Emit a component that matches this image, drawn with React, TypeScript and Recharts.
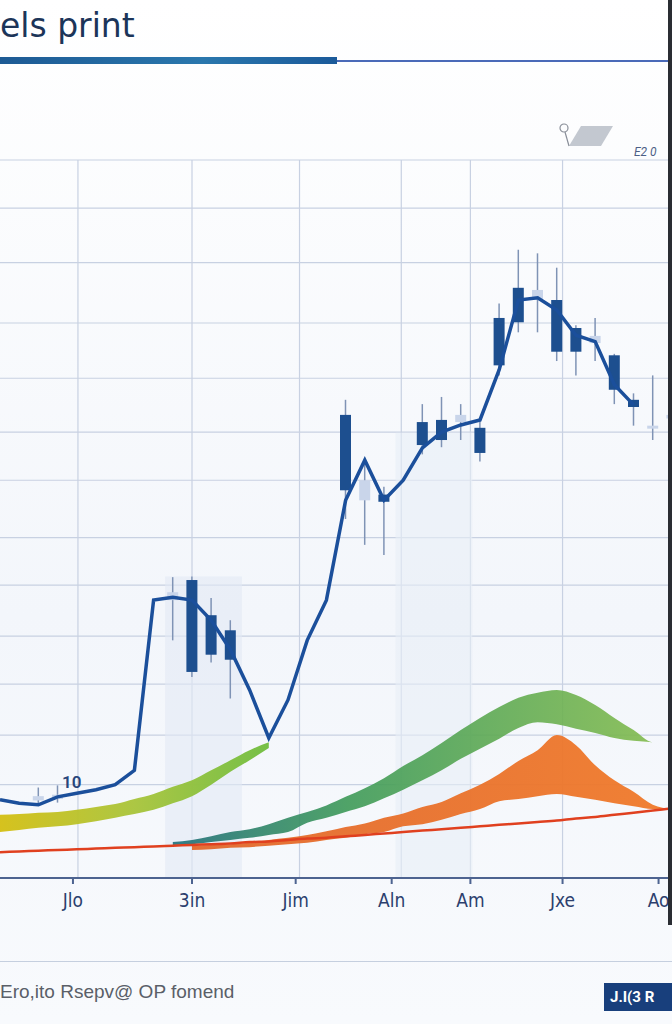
import React from 'react';
import {
  ComposedChart,
  Line,
  Area,
  Bar,
  XAxis,
  YAxis,
  CartesianGrid,
  ReferenceArea,
} from 'recharts';

// one slot per x position (0..35)
const slots = [
  0, 1, 2, 3, 4, 5, 6, 7, 8, 9, 10, 11, 12, 13, 14, 15, 16, 17,
  18, 19, 20, 21, 22, 23, 24, 25, 26, 27, 28, 29, 30, 31, 32, 33, 34, 35,
];

const closeLine = [
  10.9, 10.4, 10.2, 11.3, 11.8, 12.3, 13.0, 15.0, 38.7, 39.1, 38.7, 35.9,
  31.8, 26.2, 19.5, 24.8, 33.1, 38.7, 52.6, 58.2, 52.6, 55.4, 59.9, 62.1,
  63.1, 63.8, 70.8, 80.5, 80.8, 79.1, 75.6, 74.7, 68.7, 65.9, null, null,
];

const candleOpen = [
  null, null, 11.4, 11.6, null, null, null, null, null, 39.8, 41.5, 36.6,
  34.5, null, null, null, null, null, 54.0, 55.4, 53.4, null, 60.3, 61.0,
  63.5, 62.7, 71.4, 77.4, 81.9, 80.5, 76.6, 75.5, 72.8, 66.6, 63.0, 64.5,
];
const candleClose = [
  null, null, 10.8, 11.0, null, null, null, null, null, 38.7, 28.7, 31.1,
  30.4, null, null, null, null, null, 64.5, 52.6, 52.4, null, 63.5, 63.8,
  64.5, 59.2, 78.0, 82.2, 80.5, 73.3, 73.3, 74.5, 68.0, 65.6, 62.8, 64.0,
];
const candleHigh = [
  null, null, 12.6, 12.9, null, null, null, null, null, 41.9, 42.0, 39.0,
  35.9, null, null, null, null, null, 66.6, 58.0, 54.5, null, 66.0, 67.0,
  66.0, 64.0, 80.0, 87.5, 87.0, 85.0, 77.0, 78.0, 73.0, 67.5, 70.0, 72.0,
];
const candleLow = [
  null, null, 10.2, 10.5, null, null, null, null, null, 33.1, 28.0, 30.0,
  25.0, null, null, null, null, null, 50.0, 46.4, 45.0, null, 59.0, 60.0,
  61.0, 58.0, 70.0, 76.0, 76.0, 72.0, 70.0, 72.0, 66.0, 63.0, 61.0, 62.0,
];
const candleLight = [
  false, false, true, true, false, false, false, false, false, true, false, false,
  false, false, false, false, false, false, false, true, false, false, false, false,
  true, false, false, false, true, false, false, true, false, false, true, true,
];

// yellow-green band on the left
const greenLeftLow = [
  6.4, 6.7, 7.0, 7.2, 7.5, 7.9, 8.4, 8.9, 9.5, 10.4, 11.4, 13.0, 14.8, 16.4, 18.1,
];
const greenLeftHigh = [
  8.8, 8.9, 9.1, 9.2, 9.5, 9.9, 10.3, 11.0, 11.7, 12.7, 13.6, 15.0, 16.4, 17.8, 18.9,
];

// green wedge, from slot 9
const greenLow = [
  4.6, 4.7, 5.0, 5.3, 5.6, 6.0, 6.4, 7.7, 8.4, 9.2, 10.0, 11.1, 12.3, 13.6,
  15.0, 16.6, 18.0, 19.4, 20.9, 21.7, 21.4, 20.8, 20.2, 19.5,
  19.1, 18.9, 18.8,
];
const greenHigh = [
  5.0, 5.3, 5.8, 6.4, 6.8, 7.5, 8.4, 9.2, 10.1, 11.3, 12.5, 13.9, 15.6, 17.1,
  18.8, 20.6, 22.3, 23.8, 25.1, 25.8, 26.2, 25.5, 24.1, 22.3,
  20.6, 18.9, 18.8,
];

// orange wedge, from slot 10
const orangeLow = [
  3.9, 4.0, 4.2, 4.3, 4.5, 4.7, 4.9, 5.3, 5.6, 6.1, 6.4, 7.2, 7.5, 8.1, 8.9,
  9.6, 10.7, 11.0, 11.4, 11.7, 11.3, 10.9, 10.4, 10.0, 9.6, 9.6,
];
const orangeHigh = [
  4.5, 4.6, 4.7, 4.9, 5.3, 5.6, 6.0, 6.5, 7.1, 7.6, 8.4, 9.0, 9.9, 10.6, 11.8,
  13.0, 14.5, 16.3, 17.8, 19.9, 18.5, 15.7, 13.6, 12.0, 10.2, 9.6,
];

const redLine = [
  3.6, 3.7, 3.8, 3.9, 4.0, 4.1, 4.2, 4.3, 4.4, 4.5, 4.6, 4.7, 4.8, 5.0, 5.1,
  5.3, 5.5, 5.6, 5.8, 6.0, 6.2, 6.4, 6.6, 6.8, 7.0, 7.2, 7.4, 7.6, 7.8, 8.0,
  8.3, 8.5, 8.8, 9.1, 9.4, 9.7,
];

const xTicks = [3.8, 10, 15.4, 20.4, 24.5, 29.3, 34.3];
const xTickLabels = ['Jlo', '3in', 'Jim', 'Aln', 'Am', 'Jxe', 'Ao'];
const xGrid = [4.06, 10, 15.6, 20.9, 24.5, 29.3];
const yTicks = [13, 19.9, 27, 33.7, 40.8, 47.4, 55.4, 62.1, 69.6, 77.3, 85.7, 93.3, 100];

const data = slots.map((s, i) => ({
  x: s,
  close: closeLine[i],
  open: candleOpen[i],
  shut: candleClose[i],
  high: candleHigh[i],
  low: candleLow[i],
  light: candleLight[i],
  greenLeft: i < greenLeftLow.length ? [greenLeftLow[i], greenLeftHigh[i]] : null,
  green: i >= 9 ? [greenLow[i - 9], greenHigh[i - 9]] : null,
  orange: i >= 10 ? [orangeLow[i - 10], orangeHigh[i - 10]] : null,
  red: redLine[i],
}));

const Candle = (props: any) => {
  const { x, y, width, height, payload } = props;
  if (payload.high == null || !height) return null;
  const unit = height / (payload.high - payload.low);
  const top = Math.max(payload.open, payload.shut);
  const bodyY = y + (payload.high - top) * unit;
  const bodyH = Math.max(3, Math.abs(payload.open - payload.shut) * unit);
  const cx = x + width / 2;
  const fill = payload.light ? '#c9d5ea' : '#1d4f8f';
  return (
    <g>
      <line x1={cx} x2={cx} y1={y} y2={y + height} stroke="#7f93b5" strokeWidth={1.5} />
      <rect x={x} y={bodyY} width={width} height={bodyH} fill={fill} />
    </g>
  );
};

const NoTick = () => null;

export default function App() {
  return (
    <div
      style={{
        position: 'fixed',
        left: 0,
        top: 0,
        width: 672,
        height: 1024,
        overflow: 'hidden',
        background: 'linear-gradient(180deg, #ffffff 0%, #f3f6fb 60%, #f8fafd 100%)',
        fontFamily: 'Roboto, "Noto Sans", sans-serif',
      }}
    >
      <div
        style={{
          position: 'absolute',
          left: 0,
          top: 6,
          fontSize: 33,
          color: '#1c3559',
          fontFamily: '"DejaVu Sans", sans-serif',
        }}
      >
        els print
      </div>
      <div
        style={{
          position: 'absolute',
          left: 0,
          top: 57,
          width: 337,
          height: 7,
          background: 'linear-gradient(90deg, #1d5a94, #2a77ad 60%, #1b5a9a)',
        }}
      />
      <div
        style={{
          position: 'absolute',
          left: 337,
          top: 60,
          width: 335,
          height: 2,
          background: '#4a6ab8',
        }}
      />
      <svg style={{ position: 'absolute', left: 555, top: 120 }} width={70} height={30}>
        <polygon points="14,26 26,6 58,6 46,26" fill="#c3c8d0" />
        <circle cx={9} cy={8} r={4} fill="none" stroke="#8a8f99" strokeWidth={1.2} />
        <line x1={10} y1={12} x2={14} y2={26} stroke="#8a8f99" strokeWidth={1.2} />
      </svg>
      <div style={{ position: 'absolute', left: 634, top: 145, fontSize: 12, color: '#4c5f86', fontStyle: 'italic' }}>
        E2 0
      </div>

      <div style={{ position: 'absolute', left: 0, top: 0 }}>
        <ComposedChart
          width={672}
          height={930}
          data={data}
          margin={{ top: 160, right: 0, bottom: 12, left: 0 }}
        >
          <defs>
            <linearGradient id="gLeft" x1="0" y1="0" x2="1" y2="0">
              <stop offset="0%" stopColor="#d4bf12" />
              <stop offset="50%" stopColor="#a8c43a" />
              <stop offset="100%" stopColor="#6fbd3e" />
            </linearGradient>
            <linearGradient id="gWedge" x1="0" y1="0" x2="1" y2="0">
              <stop offset="0%" stopColor="#1f6e7a" />
              <stop offset="35%" stopColor="#3e9a58" />
              <stop offset="100%" stopColor="#86bd4d" />
            </linearGradient>
            <linearGradient id="oWedge" x1="0" y1="0" x2="1" y2="0">
              <stop offset="0%" stopColor="#e2682c" />
              <stop offset="100%" stopColor="#f07a2a" />
            </linearGradient>
          </defs>
          <CartesianGrid
            stroke="#c8d1e2"
            strokeWidth={1.2}
            horizontalValues={yTicks}
            verticalValues={xGrid}
          />
          <ReferenceArea x1={8.6} x2={12.6} y1={0} y2={42} fill="#e3eaf5" fillOpacity={0.6} stroke="none" />
          <ReferenceArea x1={20.6} x2={24.6} y1={0} y2={62} fill="#e8eef7" fillOpacity={0.6} stroke="none" />
          <XAxis
            dataKey="x"
            type="number"
            domain={[0, 35]}
            ticks={xTicks}
            tickFormatter={(v: number) => xTickLabels[xTicks.indexOf(v)] ?? ''}
            height={40}
            axisLine={{ stroke: '#4d6390', strokeWidth: 2 }}
            tickLine={{ stroke: '#4d6390', strokeWidth: 2 }}
            tickSize={6}
            tick={{ fill: '#2c3f6e', fontSize: 19, dy: 8, fontFamily: '"Liberation Sans Narrow", "DejaVu Sans Condensed", sans-serif' }}
            interval={0}
            allowDataOverflow
          />
          <YAxis
            type="number"
            domain={[0, 100]}
            ticks={yTicks}
            orientation="right"
            width={0}
            tick={<NoTick />}
            axisLine={false}
            tickLine={false}
          />
          <Area
            dataKey="greenLeft"
            type="monotone"
            stroke="none"
            fill="url(#gLeft)"
            fillOpacity={0.95}
            isAnimationActive={false}
          />
          <Area
            dataKey="green"
            type="monotone"
            stroke="none"
            fill="url(#gWedge)"
            fillOpacity={0.9}
            isAnimationActive={false}
          />
          <Area
            dataKey="orange"
            type="monotone"
            stroke="none"
            fill="url(#oWedge)"
            fillOpacity={0.95}
            isAnimationActive={false}
          />
          <Line
            dataKey="red"
            type="monotone"
            stroke="#e0401f"
            strokeWidth={2.5}
            dot={false}
            isAnimationActive={false}
          />
          <Bar
            dataKey={(d: any) => (d.high != null ? [d.low, d.high] : null)}
            barSize={11}
            shape={<Candle />}
            isAnimationActive={false}
          />
          <Line
            dataKey="close"
            type="linear"
            stroke="#1b4f9b"
            strokeWidth={3.5}
            dot={false}
            isAnimationActive={false}
          />
        </ComposedChart>
      </div>

      <div style={{ position: 'absolute', left: 62, top: 772, fontSize: 17, color: '#27457a', fontWeight: 600 }}>10</div>

      <div
        style={{
          position: 'absolute',
          right: 0,
          top: 0,
          width: 4,
          height: 925,
          background: '#2a2d33',
        }}
      />

      <div
        style={{
          position: 'absolute',
          left: 0,
          top: 961,
          width: 672,
          height: 1,
          background: '#c5cfdf',
        }}
      />
      <div
        style={{
          position: 'absolute',
          left: 0,
          top: 981,
          fontSize: 19,
          color: '#5a5f68',
          fontFamily: '"Liberation Sans", Arial, sans-serif',
        }}
      >
        Ero,ito Rsepv@ OP fomend
      </div>
      <div
        style={{
          position: 'absolute',
          left: 604,
          top: 983,
          width: 68,
          height: 28,
          background: '#183f7c',
          color: '#ffffff',
          fontWeight: 700,
          fontSize: 15,
          lineHeight: '28px',
          paddingLeft: 6,
          boxSizing: 'border-box',
          whiteSpace: 'nowrap',
        }}
      >
        J.I(3 R
      </div>
    </div>
  );
}
